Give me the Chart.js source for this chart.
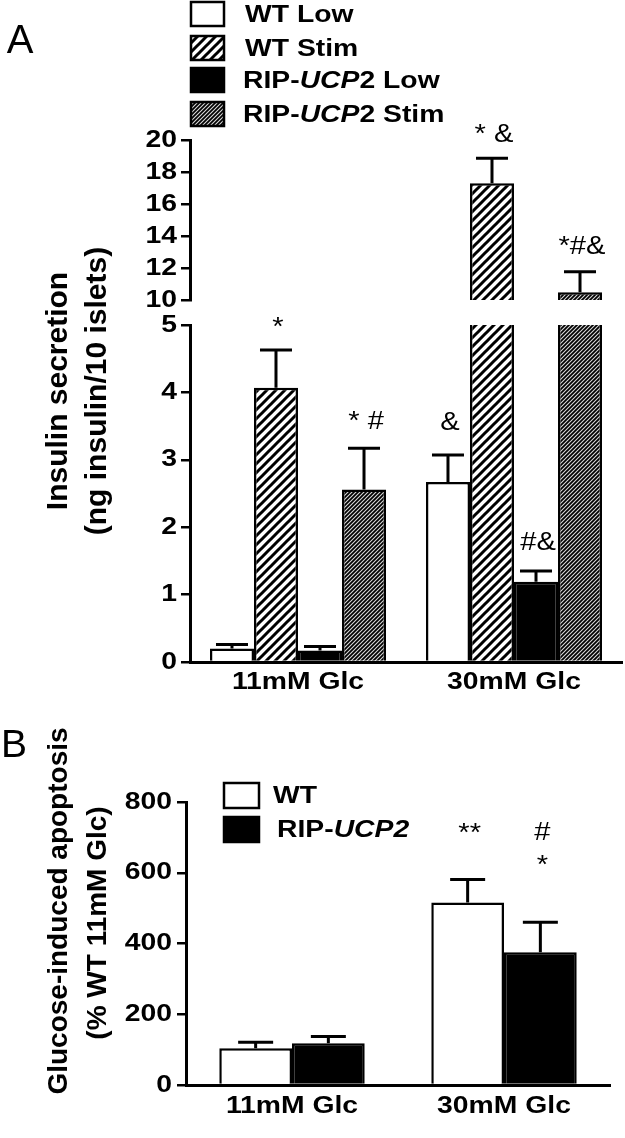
<!DOCTYPE html>
<html>
<head>
<meta charset="utf-8">
<script src="https://cdn.jsdelivr.net/npm/chart.js@4.4.1/dist/chart.umd.min.js"></script>
<style>
  html, body { margin: 0; padding: 0; background: #fff; }
  #wrap { position: relative; width: 625px; height: 1138px; }
  canvas { position: absolute; left: 0; }
</style>
</head>
<body>
<div id="wrap">
  <canvas id="lowerA" width="625" height="720" style="top:0"></canvas>
  <canvas id="upperA" width="625" height="320" style="top:0"></canvas>
  <canvas id="chartB" width="625" height="438" style="top:700px"></canvas>
</div>
<script>
// ---- data: panel A (insulin secretion) ----
const categories = ['11mM Glc', '30mM Glc'];
const seriesA = ['WT Low', 'WT Stim', 'RIP-UCP2 Low', 'RIP-UCP2 Stim'];
const wtLow = [0.20, 2.67];
const wtLowErr = [0.06, 0.40];
const wtStim = [4.07, 17.3];
const wtStimErr = [0.56, 1.56];
const ripLow = [0.17, 1.19];
const ripLowErr = [0.06, 0.16];
const ripStim = [2.56, 10.48];
const ripStimErr = [0.61, 1.29];
const sigA = [['', '&'], ['*', '* &'], ['', '#&'], ['* #', '*#&']];
const lowTicksA = [0, 1, 2, 3, 4, 5];
const highTicksA = [10, 12, 14, 16, 18, 20];

// ---- data: panel B (apoptosis) ----
const seriesB = ['WT', 'RIP-UCP2'];
const wtApop = [104, 516];
const wtApopErr = [17, 65];
const ripApop = [118, 375];
const ripApopErr = [19, 85];
const sigB = [['', '**'], ['', '#\n*']];
const ticksB = [0, 200, 400, 600, 800];

// ---- styling helpers ----
const FAM = '"Liberation Sans", Arial, Helvetica, sans-serif';
const SX = 1.18; // the figure is stretched horizontally

function hatch(ctx, size, bg, fg, lw) {
  const c = document.createElement('canvas');
  c.width = c.height = size;
  const g = c.getContext('2d');
  g.fillStyle = bg;
  g.fillRect(0, 0, size, size);
  g.strokeStyle = fg;
  g.lineWidth = lw;
  g.beginPath();
  g.moveTo(-size / 2, size / 2); g.lineTo(size / 2, -size / 2);
  g.moveTo(0, size); g.lineTo(size, 0);
  g.moveTo(size / 2, size * 1.5); g.lineTo(size * 1.5, size / 2);
  g.stroke();
  return ctx.createPattern(c, 'repeat');
}

// draw text, italicising the part matched by `ital`
function text(ctx, str, x, y, o) {
  const size = o.size || 24, weight = o.weight || 'bold', sx = o.sx || SX;
  const parts = o.ital ? str.split(o.ital) : [str];
  const fontOf = (i) => (i % 2 ? 'italic ' : '') + weight + ' ' + size + 'px ' + FAM;
  ctx.save();
  ctx.fillStyle = '#000';
  ctx.textBaseline = 'middle';
  ctx.textAlign = 'left';
  let w = 0;
  parts.forEach((p, i) => { ctx.font = fontOf(i); w += ctx.measureText(p).width; });
  ctx.translate(x, y);
  if (o.rot) ctx.rotate(-Math.PI / 2);
  ctx.scale(sx, 1);
  let cx = o.align === 'center' ? -w / 2 : o.align === 'right' ? -w : 0;
  parts.forEach((p, i) => { ctx.font = fontOf(i); ctx.fillText(p, cx, 0); cx += ctx.measureText(p).width; });
  ctx.restore();
}

function box(ctx, x, y, w, h, fill) {
  ctx.save();
  ctx.fillStyle = fill;
  ctx.fillRect(x, y, w, h);
  ctx.strokeStyle = '#000';
  ctx.lineWidth = 2.5;
  ctx.strokeRect(x, y, w, h);
  ctx.restore();
}

function decor(cfg) {
  return {
    id: 'decor',
    afterDraw(chart) {
      const ctx = chart.ctx;
      const ca = chart.chartArea;
      // tick labels of y scales
      Object.values(chart.scales).forEach(s => {
        if (s.axis !== 'y') return;
        s.ticks.forEach((t, i) => {
          text(ctx, String(t.value), s.right - cfg.tickGap, s.getPixelForTick(i), { align: 'right' });
        });
      });
      // category labels
      if (cfg.cats) {
        const xs = chart.scales.x;
        chart.data.labels.forEach((lab, i) => {
          text(ctx, lab, xs.getPixelForTick(i), ca.bottom + cfg.catGap, { align: 'center' });
        });
      }
      // error bars (upper side only) + significance marks
      ctx.save();
      ctx.beginPath();
      ctx.rect(ca.left, ca.top, ca.right - ca.left, ca.bottom - ca.top);
      ctx.clip();
      ctx.strokeStyle = '#000';
      ctx.lineWidth = 3;
      chart.data.datasets.forEach((ds, di) => {
        const meta = chart.getDatasetMeta(di);
        const ys = chart.scales[meta.yAxisID];
        meta.data.forEach((bar, i) => {
          const top = ys.getPixelForValue(ds.data[i] + cfg.err[di][i]);
          ctx.beginPath();
          ctx.moveTo(bar.x, bar.y);
          ctx.lineTo(bar.x, top);
          ctx.moveTo(bar.x - cfg.cap / 2, top);
          ctx.lineTo(bar.x + cfg.cap / 2, top);
          ctx.stroke();
        });
      });
      ctx.restore();
      chart.data.datasets.forEach((ds, di) => {
        const meta = chart.getDatasetMeta(di);
        const ys = chart.scales[meta.yAxisID];
        meta.data.forEach((bar, i) => {
          const lab = cfg.sig[di][i];
          if (!lab) return;
          const top = ys.getPixelForValue(ds.data[i] + cfg.err[di][i]);
          if (top < ca.top || top > ca.bottom) return;
          const lines = lab.split('\n').reverse();
          lines.forEach((ln, k) => {
            text(ctx, ln, bar.x + 2, top - cfg.sigOff[di][i] - k * cfg.sigLine,
              { align: 'center', weight: 'normal', size: 26, sx: 1.12 });
          });
        });
      });
      if (cfg.extra) cfg.extra(ctx, chart);
    }
  };
}

Chart.defaults.font.family = FAM;
Chart.defaults.animation = false;

function yAxis(ticks, width) {
  return {
    min: ticks[0],
    max: ticks[ticks.length - 1],
    ticks: { stepSize: ticks[1] - ticks[0], display: false },
    grid: { display: true, drawOnChartArea: false, drawTicks: true, tickLength: 9, color: '#000', lineWidth: 2.5 },
    border: { display: true, color: '#000', width: 3 },
    afterFit: s => { s.width = width; }
  };
}

// ---- panel A ----
const ctxLow = document.getElementById('lowerA').getContext('2d');
const ctxHigh = document.getElementById('upperA').getContext('2d');
function fillsA(ctx) {
  return ['#ffffff', hatch(ctx, 9, '#ffffff', '#000000', 3), '#000000', hatch(ctx, 4, '#000000', '#d8d8d8', 1.1)];
}
const valuesA = [wtLow, wtStim, ripLow, ripStim];
const errA = [wtLowErr, wtStimErr, ripLowErr, ripStimErr];
const sigOffA = [[0, 32], [22, 23], [0, 28], [27, 25]];

function datasetsA(ctx) {
  const f = fillsA(ctx);
  return seriesA.map((name, i) => ({
    label: name,
    data: valuesA[i],
    backgroundColor: f[i],
    borderColor: '#000',
    borderWidth: 2.5,
    borderSkipped: 'start',
    clip: 0,
    categoryPercentage: 0.815,
    barPercentage: 1
  }));
}

const legendFillsA = fillsA(ctxLow);

new Chart(ctxLow, {
  type: 'bar',
  data: { labels: categories, datasets: datasetsA(ctxLow) },
  options: {
    responsive: false,
    devicePixelRatio: 1,
    layout: { padding: { top: 325, right: 3, bottom: 0, left: 0 } },
    plugins: { legend: { display: false }, tooltip: { enabled: false } },
    scales: {
      x: {
        grid: { display: false },
        ticks: { display: false },
        border: { display: true, color: '#000', width: 3 },
        afterFit: s => { s.height = 58; }
      },
      y: yAxis(lowTicksA, 190)
    }
  },
  plugins: [decor({
    tickGap: 13, cats: true, catGap: 20, err: errA, cap: 32,
    sig: sigA, sigOff: sigOffA, sigLine: 0,
    extra: (ctx) => {
      text(ctx, 'A', 20, 42, { weight: 'normal', size: 40, align: 'center', sx: 1 });
      const rows = [14, 48, 80, 114];
      seriesA.forEach((name, i) => {
        box(ctx, 191, rows[i] - 12, 33, 24, legendFillsA[i]);
        text(ctx, name, i < 2 ? 245 : 243, rows[i] + 1, { ital: /(UCP)/ });
      });
      text(ctx, 'Insulin secretion', 59, 391, { rot: true, size: 30, sx: 1, align: 'center' });
      text(ctx, '(ng insulin/10 islets)', 98, 391, { rot: true, size: 30, sx: 1, align: 'center' });
    }
  })]
});

new Chart(ctxHigh, {
  type: 'bar',
  data: { labels: categories, datasets: datasetsA(ctxHigh) },
  options: {
    responsive: false,
    devicePixelRatio: 1,
    layout: { padding: { top: 140, right: 3, bottom: 20, left: 0 } },
    plugins: { legend: { display: false }, tooltip: { enabled: false } },
    scales: {
      x: { display: false },
      y: yAxis(highTicksA, 190)
    }
  },
  plugins: [decor({
    tickGap: 13, cats: false, err: errA, cap: 32,
    sig: sigA, sigOff: sigOffA, sigLine: 0
  })]
});

// ---- panel B ----
const ctxB = document.getElementById('chartB').getContext('2d');
const fillsB = ['#ffffff', '#000000'];
const valuesB = [wtApop, ripApop];
const errB = [wtApopErr, ripApopErr];

new Chart(ctxB, {
  type: 'bar',
  data: {
    labels: categories,
    datasets: seriesB.map((name, i) => ({
      label: name,
      data: valuesB[i],
      backgroundColor: fillsB[i],
      borderColor: '#000',
      borderWidth: 2.5,
      borderSkipped: 'start',
      clip: 0,
      categoryPercentage: 0.686,
      barPercentage: 1
    }))
  },
  options: {
    responsive: false,
    devicePixelRatio: 1,
    layout: { padding: { top: 102, right: 15, bottom: 0, left: 0 } },
    plugins: { legend: { display: false }, tooltip: { enabled: false } },
    scales: {
      x: {
        grid: { display: false },
        ticks: { display: false },
        border: { display: true, color: '#000', width: 3 },
        afterFit: s => { s.height = 53; }
      },
      y: yAxis(ticksB, 186)
    }
  },
  plugins: [decor({
    tickGap: 14, cats: true, catGap: 21, err: errB, cap: 35,
    sig: sigB, sigOff: [[0, 46], [0, 56]], sigLine: 33,
    extra: (ctx) => {
      text(ctx, 'B', 14, 46, { weight: 'normal', size: 39, align: 'center', sx: 1 });
      const rows = [95, 129];
      seriesB.forEach((name, i) => {
        box(ctx, 224, rows[i] - 12, 35, 25, fillsB[i]);
        text(ctx, name, i === 0 ? 273 : 277, rows[i] + 1, { ital: /(UCP2)/ });
      });
      text(ctx, 'Glucose-induced apoptosis', 59, 211, { rot: true, size: 28, sx: 1, align: 'center' });
      text(ctx, '(% WT 11mM Glc)', 98, 223, { rot: true, size: 28, sx: 1, align: 'center' });
    }
  })]
});
</script>
</body>
</html>
